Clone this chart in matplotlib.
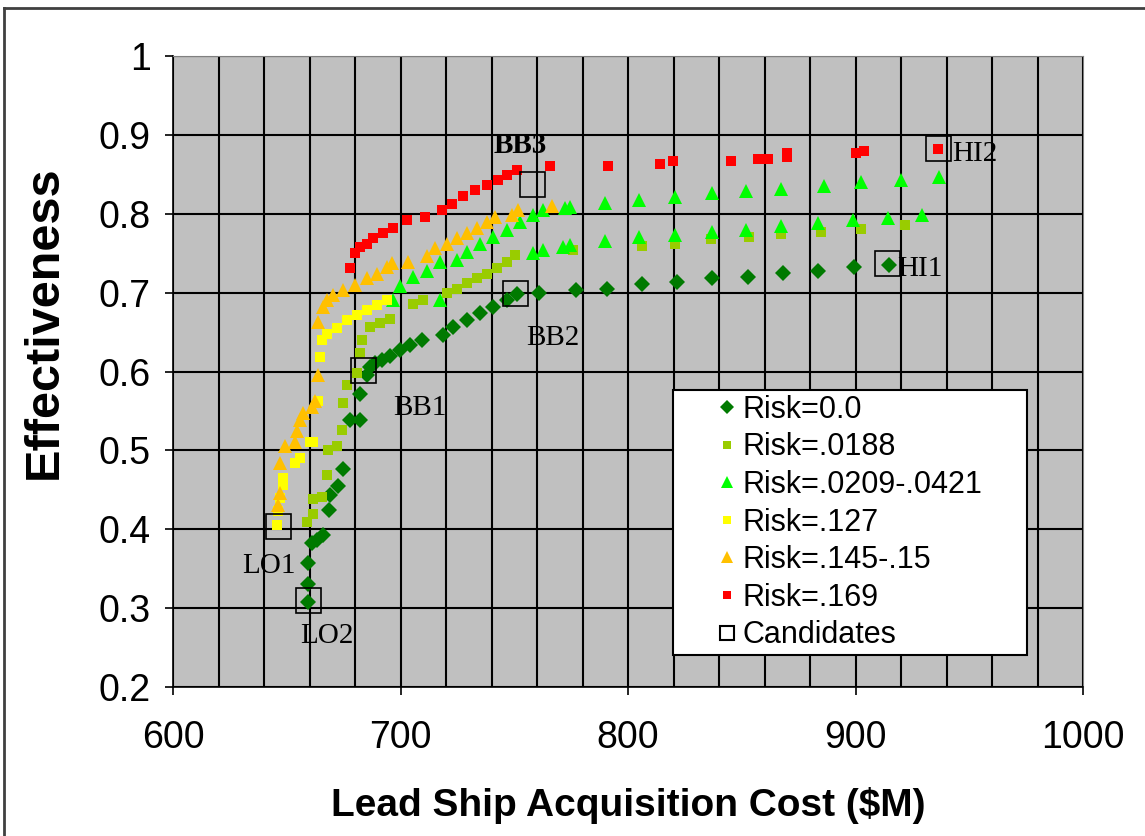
import matplotlib.pyplot as plt
from matplotlib.lines import Line2D

# Risk = 0.0 (dark green diamonds)
r0_x = [659.5, 659.5, 659.5, 661, 663.2, 666, 668.7, 669, 672.7, 674.9, 677.8, 682.2, 682.2, 685.2,
        686.6, 689, 692, 695.5, 699.8, 704, 709.3, 718.8, 723.2, 729.1, 735, 740.8, 746.7, 751,
        761, 777.2, 790.7, 806, 821.7, 837.1, 852.6, 868, 883.4, 899.2, 914.9]
r0_y = [0.308, 0.331, 0.357, 0.382, 0.386, 0.393, 0.424, 0.443, 0.455, 0.476, 0.538, 0.538, 0.572, 0.596,
        0.606, 0.611, 0.615, 0.620, 0.627, 0.633, 0.640, 0.646, 0.657, 0.665, 0.674, 0.682, 0.691, 0.698,
        0.699, 0.703, 0.705, 0.711, 0.713, 0.718, 0.720, 0.725, 0.728, 0.732, 0.735]

# Risk = .0188 (yellow-green squares)
r1_x = [658.8, 661.7, 661.7, 665.4, 667.6, 668.3, 672, 674.2, 674.6, 676.4, 680.8, 682.2, 683, 686.6,
        691, 695.4, 705.6, 710, 720.3, 724.7, 729.1, 733.5, 737.9, 742.3, 746.7, 750.3, 776, 806,
        820.7, 836.4, 853.3, 867.1, 884.7, 902.3, 921.8]
r1_y = [0.409, 0.419, 0.439, 0.441, 0.469, 0.500, 0.505, 0.526, 0.560, 0.583, 0.598, 0.623, 0.640, 0.657,
        0.662, 0.667, 0.686, 0.691, 0.699, 0.705, 0.712, 0.718, 0.724, 0.731, 0.739, 0.748, 0.754, 0.759,
        0.762, 0.768, 0.771, 0.774, 0.777, 0.781, 0.786]

# Risk = .0209-.0421 (bright green triangles)
r2_x = [696.8, 699.8, 705.6, 711.5, 717.4, 717.4, 724.7, 729.1, 735, 740.8, 746.7, 752.5, 758.3, 762.7,
        758.3, 762.7, 771.5, 774.5, 772.3, 774.5, 789.9, 805, 789.9, 805,
        820.7, 837.1, 851.8, 867.3, 886.3, 902.4, 919.9, 936.7,
        820.7, 837.1, 851.8, 867.3, 883.4, 899, 914.4, 929.1]
r2_y = [0.691, 0.708, 0.720, 0.727, 0.739, 0.691, 0.741, 0.752, 0.762, 0.771, 0.779, 0.790, 0.798, 0.805,
        0.750, 0.754, 0.758, 0.760, 0.807, 0.809, 0.814, 0.818, 0.765, 0.771,
        0.821, 0.826, 0.829, 0.832, 0.835, 0.840, 0.843, 0.847,
        0.773, 0.777, 0.780, 0.784, 0.788, 0.792, 0.795, 0.799]

# Risk = .127 (yellow squares)
r3_x = [645.9, 646.3, 647.2, 648.5, 648.5, 653.6, 655.8, 660.2, 661.7, 663.9, 664.6, 665.4, 667.6,
        672, 676.4, 680.8, 685.2, 689.6, 694]
r3_y = [0.405, 0.423, 0.440, 0.456, 0.465, 0.484, 0.490, 0.511, 0.511, 0.562, 0.619, 0.640, 0.648,
        0.655, 0.665, 0.672, 0.678, 0.684, 0.691]

# Risk = .145-.15 (orange triangles)
r4_x = [646.3, 647, 647, 649.2, 653.6, 654.4, 655.8, 657.3, 661, 662.4, 663.9, 663.9, 666.1, 667.6,
        670.5, 674.9, 680, 685.2, 689.6, 694, 696.1, 703.4, 711.5, 715.2, 720.3, 724.7, 729.1, 733.5,
        737.9, 741.6, 748.9, 751.8, 766.4]
r4_y = [0.431, 0.446, 0.484, 0.505, 0.511, 0.524, 0.538, 0.547, 0.555, 0.562, 0.596, 0.663, 0.682, 0.691,
        0.697, 0.703, 0.710, 0.718, 0.724, 0.733, 0.737, 0.739, 0.746, 0.756, 0.762, 0.769, 0.775, 0.782,
        0.790, 0.796, 0.798, 0.805, 0.810]

# Risk = .169 (red squares)
r5_x = [677.8, 680, 682.2, 685.2, 688, 692.4, 696.8, 702.7, 710.8, 718.1, 722.5, 727.6, 732.8, 737.9,
        743, 746.7, 751, 765.7, 791.1, 814.1, 819.9, 845.2, 857.3, 861.7, 870, 870, 900.2, 903.5, 936.4]
r5_y = [0.731, 0.750, 0.758, 0.762, 0.769, 0.775, 0.782, 0.792, 0.796, 0.805, 0.813, 0.822, 0.830, 0.836,
        0.843, 0.849, 0.856, 0.861, 0.861, 0.863, 0.867, 0.867, 0.870, 0.870, 0.877, 0.872, 0.877, 0.880, 0.882]

# Candidate designs
cand_names = ["LO1", "LO2", "BB1", "BB2", "BB3", "HI1", "HI2"]
cand_x = [646, 659.2, 683.5, 750.3, 757.7, 914, 936.2]
cand_y = [0.404, 0.310, 0.602, 0.699, 0.838, 0.737, 0.883]
label_x = [642.3, 667.6, 708.6, 767, 752.5, 928.4, 942.4]
label_y = [0.353, 0.265, 0.554, 0.643, 0.887, 0.730, 0.876]

series = [
    (r0_x, r0_y, "Risk=0.0", "D", "#007A00", 8.5),
    (r1_x, r1_y, "Risk=.0188", "s", "#99CC00", 7.5),
    (r2_x, r2_y, "Risk=.0209-.0421", "^", "#00FF00", 10),
    (r3_x, r3_y, "Risk=.127", "s", "#FFFF00", 7.5),
    (r4_x, r4_y, "Risk=.145-.15", "^", "#FFC000", 10),
    (r5_x, r5_y, "Risk=.169", "s", "#FF0000", 7.5),
]

plt.rcParams['font.family'] = ['Liberation Sans', 'DejaVu Sans']

fig = plt.figure(figsize=(11.45, 8.36), dpi=100)
ax = fig.add_axes([0.1511, 0.1782, 0.7948, 0.7548])
ax.set_facecolor("#C0C0C0")

handles = []
for i, (xs, ys, name, mk, col, ms) in enumerate(series):
    ax.plot(xs, ys, linestyle="none", marker=mk, color=col, markersize=ms,
            markeredgewidth=0, zorder=3 + i)
    handles.append(Line2D([], [], linestyle="none", marker=mk, color=col,
                          markersize=ms * 0.8, markeredgewidth=0, label=name))

ax.plot(cand_x, cand_y, linestyle="none", marker="s", markersize=18,
        markerfacecolor="none", markeredgecolor="black", markeredgewidth=1.2, zorder=10)
handles.append(Line2D([], [], linestyle="none", marker="s", markersize=10,
                      markerfacecolor="white", markeredgecolor="black",
                      markeredgewidth=1.5, label="Candidates"))

for name, lx, ly in zip(cand_names, label_x, label_y):
    ha = "left" if name == "HI2" else "center"
    ax.text(lx, ly, name, family="Liberation Serif", fontsize=21,
            fontweight="bold" if name == "BB3" else "normal",
            ha=ha, va="center", zorder=11)

ax.set_xlim(600, 1000)
ax.set_ylim(0.2, 1.0)
ax.set_xticks(range(600, 1001, 100))
ax.set_xticks(range(600, 1001, 20), minor=True)
ax.set_yticks([0.2, 0.3, 0.4, 0.5, 0.6, 0.7, 0.8, 0.9, 1.0])
ax.set_yticklabels(["0.2", "0.3", "0.4", "0.5", "0.6", "0.7", "0.8", "0.9", "1"])
ax.grid(True, which="both", color="black", linewidth=1.5)
ax.set_axisbelow(True)
ax.tick_params(axis="both", which="major", labelsize=27, direction="out", length=6, width=1.2)
ax.tick_params(axis="x", which="major", pad=18)
ax.tick_params(axis="y", which="major", pad=10)
ax.tick_params(axis="both", which="minor", length=0)
for side in ["top", "right"]:
    ax.spines[side].set_color("#808080")
for side in ["left", "bottom"]:
    ax.spines[side].set_color("black")
    ax.spines[side].set_linewidth(1.2)

ax.set_xlabel("Lead Ship Acquisition Cost ($M)", fontsize=28, fontweight="bold", labelpad=22)
ax.set_ylabel("Effectiveness", fontsize=35, fontweight="bold")
ax.yaxis.set_label_coords(-0.117, 0.578)

leg = ax.legend(handles=handles, loc="upper left",
                bbox_to_anchor=(0.549, 0.048, 0.389, 0.4227), mode="expand",
                fontsize=22, frameon=True, fancybox=False, framealpha=1,
                borderpad=0.15, handlelength=3.23, handletextpad=-1.08,
                labelspacing=0.25, borderaxespad=0)
leg.get_frame().set_edgecolor("black")
leg.get_frame().set_linewidth(1.5)
leg.set_zorder(20)

# outer chart frame (cut off at right and bottom)
fig.add_artist(Line2D([4 / 1145, 1], [1 - 8 / 836, 1 - 8 / 836], color="#404040", linewidth=2))
fig.add_artist(Line2D([4 / 1145, 4 / 1145], [0, 1 - 8 / 836], color="#404040", linewidth=2))

fig.savefig("out.png", dpi=100)
